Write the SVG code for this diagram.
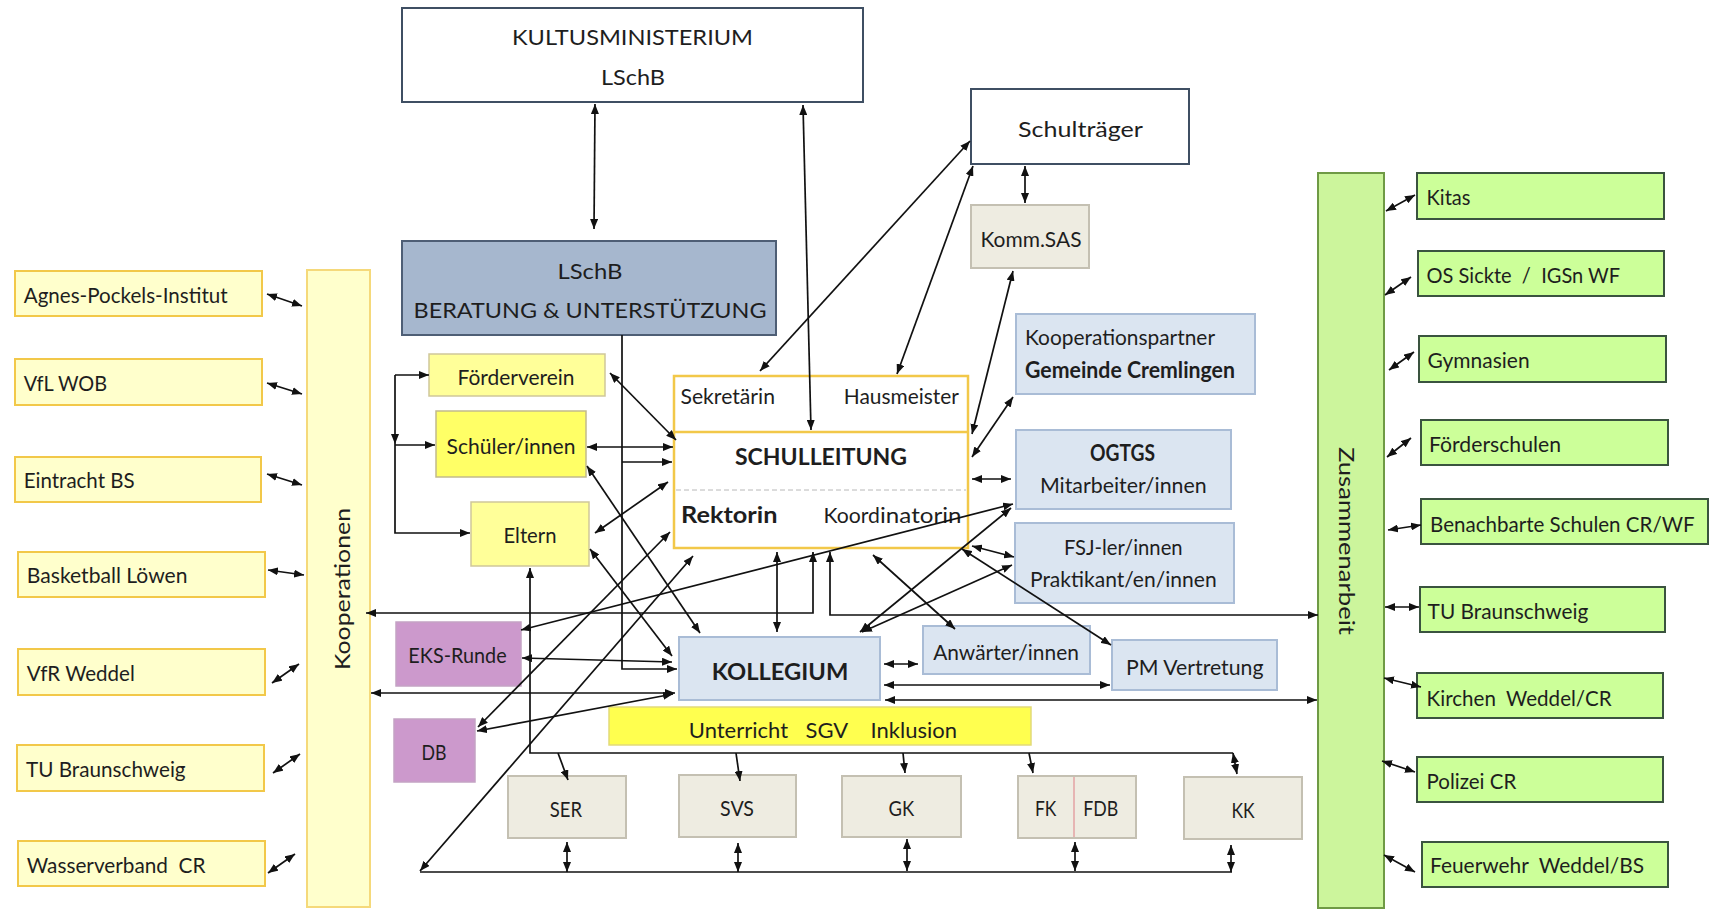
<svg xmlns="http://www.w3.org/2000/svg" width="1714" height="909" viewBox="0 0 1714 909">
<defs>
<marker id="ah" viewBox="0 0 10 8" refX="10" refY="4" markerWidth="10" markerHeight="8" orient="auto-start-reverse" markerUnits="userSpaceOnUse"><path d="M0,0 L10,4 L0,8 z" fill="#111"/></marker>
<style>
.t{font-family:Lato,"Liberation Sans",sans-serif;font-size:22px;fill:#1e1e1e}
.c{text-anchor:middle}
.b{font-weight:bold}
.pre{white-space:pre}
.w{fill:#fff;stroke:#3f4f63;stroke-width:2}
.ly{fill:#ffff99;stroke:#cfc79a;stroke-width:1.5}
.by{fill:#ffff66;stroke:#c2ba8c;stroke-width:1.5}
.bl{fill:#dbe5f1;stroke:#a9bcd6;stroke-width:2}
.gr{fill:#eeece1;stroke:#c4c0b2;stroke-width:2}
.pu{fill:#cc99cc;stroke:#c4a3c4;stroke-width:1.5}
.ko{fill:#ffffcc;stroke:#f2c849;stroke-width:2}
.gn{fill:#ccff99;stroke:#3a533f;stroke-width:2}
.cn line,.cn polyline{stroke:#111;stroke-width:1.7;fill:none}
.d{marker-start:url(#ah);marker-end:url(#ah)}
.e{marker-end:url(#ah)}
.s{marker-start:url(#ah)}
</style>
</defs>
<rect width="1714" height="909" fill="#fff"/>

<g id="kultus"><rect class="w" x="402" y="8" width="461" height="94"/>
<text class="t c" x="632.5" y="45" font-size="26" textLength="241" lengthAdjust="spacingAndGlyphs">KULTUSMINISTERIUM</text>
<text class="t c" x="633" y="85" font-size="25" textLength="64" lengthAdjust="spacingAndGlyphs">LSchB</text></g>

<g id="schultraeger"><rect class="w" x="971" y="89" width="218" height="75"/>
<text class="t c" x="1080.5" y="137" font-size="22" textLength="125" lengthAdjust="spacingAndGlyphs">Schulträger</text></g>

<g id="komm-sas"><rect class="gr" x="971" y="205" width="118" height="63"/>
<text class="t c" x="1031" y="246.5" font-size="20" textLength="101" lengthAdjust="spacingAndGlyphs">Komm.SAS</text></g>

<g id="lschb-beratung"><rect x="402" y="241" width="374" height="94" fill="#a6b7ce" stroke="#4e5e75" stroke-width="2"/>
<text class="t c" x="590" y="279" font-size="24" textLength="65" lengthAdjust="spacingAndGlyphs">LSchB</text>
<text class="t c" x="590" y="318" font-size="24" textLength="353" lengthAdjust="spacingAndGlyphs">BERATUNG &amp; UNTERSTÜTZUNG</text></g>

<g id="foerderverein"><rect class="ly" x="429" y="354" width="176" height="42"/>
<text class="t c" x="516" y="385" textLength="117" lengthAdjust="spacingAndGlyphs">Förderverein</text></g>

<g id="schueler"><rect class="by" x="436" y="411" width="150" height="66"/>
<text class="t c" x="511" y="454" font-size="21.5" textLength="129" lengthAdjust="spacingAndGlyphs">Schüler/innen</text></g>

<g id="eltern"><rect class="ly" x="471" y="502" width="118" height="64"/>
<text class="t c" x="530" y="543" font-size="21" textLength="53" lengthAdjust="spacingAndGlyphs">Eltern</text></g>

<g id="schulleitung"><rect x="674" y="376" width="294" height="172" fill="#fff" stroke="#f2c849" stroke-width="2.5"/>
<line x1="674" y1="432" x2="968" y2="432" stroke="#f2c849" stroke-width="2.5"/>
<line x1="676" y1="490" x2="966" y2="490" stroke="#b8b8b8" stroke-width="1" stroke-dasharray="5 3"/>
<text class="t" x="680.5" y="404" font-size="21" textLength="94.5" lengthAdjust="spacingAndGlyphs">Sekretärin</text>
<text class="t" x="843.8" y="404" font-size="21" textLength="115" lengthAdjust="spacingAndGlyphs">Hausmeister</text>
<text class="t c b" x="821" y="465" font-size="27" textLength="172" lengthAdjust="spacingAndGlyphs">SCHULLEITUNG</text>
<text class="t b" x="681" y="523" font-size="24" textLength="96.5" lengthAdjust="spacingAndGlyphs">Rektorin</text>
<text class="t" x="823.5" y="523" font-size="23" textLength="56.5" lengthAdjust="spacingAndGlyphs">Koord</text>
<text class="t" x="880" y="523" font-size="19" textLength="81.5" lengthAdjust="spacingAndGlyphs">inatorin</text></g>

<g id="kooperationspartner"><rect class="bl" x="1016" y="314" width="239" height="80"/>
<text class="t" x="1025" y="345" font-size="21" textLength="190" lengthAdjust="spacingAndGlyphs">Kooperationspartner</text>
<text class="t b" x="1025" y="378" font-size="22" textLength="210" lengthAdjust="spacingAndGlyphs">Gemeinde Cremlingen</text></g>

<g id="ogtgs"><rect class="bl" x="1016" y="430" width="215" height="79"/>
<text class="t c b" x="1122.5" y="461" font-size="21" textLength="65" lengthAdjust="spacingAndGlyphs">OGTGS</text>
<text class="t c" x="1123.3" y="493" textLength="166.7" lengthAdjust="spacingAndGlyphs">Mitarbeiter/innen</text></g>

<g id="fsj"><rect class="bl" x="1015" y="523" width="219" height="80"/>
<text class="t c" x="1123.3" y="555" textLength="118.7" lengthAdjust="spacingAndGlyphs">FSJ-ler/innen</text>
<text class="t c" x="1123.3" y="587" textLength="186.7" lengthAdjust="spacingAndGlyphs">Praktikant/en/innen</text></g>

<g id="kollegium"><rect class="bl" x="679" y="637" width="201" height="63"/>
<text class="t c b" x="780" y="680" font-size="26" textLength="136.7" lengthAdjust="spacingAndGlyphs">KOLLEGIUM</text></g>

<g id="anwaerter"><rect class="bl" x="923" y="626" width="167" height="48"/>
<text class="t c" x="1006" y="660" textLength="145.7" lengthAdjust="spacingAndGlyphs">Anwärter/innen</text></g>

<g id="pm-vertretung"><rect class="bl" x="1112" y="640" width="165" height="50"/>
<text class="t c" x="1194.8" y="675" textLength="137.5" lengthAdjust="spacingAndGlyphs">PM Vertretung</text></g>

<g id="unterricht"><rect x="609" y="707" width="422" height="38" fill="#ffff4f" stroke="#e2da7a" stroke-width="1.5"/>
<text class="t" y="737.5" font-size="21.5"><tspan x="688.8">Unterricht</tspan><tspan x="805.6">SGV</tspan><tspan x="870.6">Inklusion</tspan></text></g>

<g id="eks-runde"><rect class="pu" x="396" y="622" width="125" height="64"/>
<text class="t c" x="457.5" y="663" textLength="98.3" lengthAdjust="spacingAndGlyphs" fill="#2a1a33">EKS-Runde</text></g>

<g id="db"><rect class="pu" x="394" y="719" width="81" height="63"/>
<text class="t c" x="434" y="760" textLength="25" lengthAdjust="spacingAndGlyphs">DB</text></g>

<g id="ser"><rect class="gr" x="508" y="776" width="118" height="62"/>
<text class="t c" x="566" y="816.5" textLength="32.3" lengthAdjust="spacingAndGlyphs">SER</text></g>
<g id="svs"><rect class="gr" x="679" y="775" width="117" height="62"/>
<text class="t c" x="737" y="816" textLength="34" lengthAdjust="spacingAndGlyphs">SVS</text></g>
<g id="gk"><rect class="gr" x="842" y="776" width="119" height="61"/>
<text class="t c" x="901.4" y="816" textLength="25.7" lengthAdjust="spacingAndGlyphs">GK</text></g>
<g id="fk-fdb"><rect class="gr" x="1018" y="776" width="118" height="62"/>
<line x1="1074" y1="777" x2="1074" y2="837" stroke="#e3a3a3" stroke-width="1.5"/>
<text class="t c" x="1045.7" y="816" textLength="21.4" lengthAdjust="spacingAndGlyphs">FK</text>
<text class="t c" x="1100.7" y="816" textLength="35" lengthAdjust="spacingAndGlyphs">FDB</text></g>
<g id="kk"><rect class="gr" x="1184" y="777" width="118" height="62"/>
<text class="t c" x="1243" y="818" textLength="23.2" lengthAdjust="spacingAndGlyphs">KK</text></g>

<g id="kooperationen"><rect x="307" y="270" width="63" height="637" fill="#ffffcc" stroke="#f5d97a" stroke-width="2"/>
<text class="t c" transform="translate(349.5,589) rotate(-90)" font-size="25" textLength="162" lengthAdjust="spacingAndGlyphs">Kooperationen</text></g>

<g id="agnes"><rect class="ko" x="15" y="271" width="247" height="45"/><text class="t" x="23.7" y="302.7" textLength="204" lengthAdjust="spacingAndGlyphs">Agnes-Pockels-Institut</text></g>
<g id="vfl-wob"><rect class="ko" x="15" y="359" width="247" height="46"/><text class="t" x="23.7" y="390.7" textLength="83.4" lengthAdjust="spacingAndGlyphs">VfL WOB</text></g>
<g id="eintracht"><rect class="ko" x="15" y="457" width="246" height="45"/><text class="t" x="23.7" y="488" textLength="111" lengthAdjust="spacingAndGlyphs">Eintracht BS</text></g>
<g id="basketball"><rect class="ko" x="18" y="552" width="247" height="45"/><text class="t" x="26.8" y="583" textLength="160.7" lengthAdjust="spacingAndGlyphs">Basketball Löwen</text></g>
<g id="vfr-weddel"><rect class="ko" x="18" y="649" width="247" height="46"/><text class="t" x="26.8" y="680.7" textLength="108" lengthAdjust="spacingAndGlyphs">VfR Weddel</text></g>
<g id="tu-bs-left"><rect class="ko" x="17" y="745" width="247" height="46"/><text class="t" x="26" y="776.7" textLength="159.6" lengthAdjust="spacingAndGlyphs">TU Braunschweig</text></g>
<g id="wasserverband"><rect class="ko" x="18" y="841" width="247" height="45"/><text class="t pre" x="26.8" y="872.7" textLength="178.7" lengthAdjust="spacingAndGlyphs">Wasserverband  CR</text></g>

<g id="zusammenarbeit"><rect x="1318" y="173" width="66" height="735" fill="#ccf59c" stroke="#6f9a45" stroke-width="2"/>
<text class="t c" transform="translate(1338.5,541) rotate(90)" font-size="26" textLength="188" lengthAdjust="spacingAndGlyphs">Zusammenarbeit</text></g>

<g id="kitas"><rect class="gn" x="1417" y="173" width="247" height="46"/><text class="t" x="1426.6" y="205" textLength="43.9" lengthAdjust="spacingAndGlyphs">Kitas</text></g>
<g id="os-sickte"><rect class="gn" x="1418" y="251" width="246" height="45"/><text class="t pre" x="1426.6" y="283" textLength="193.5" lengthAdjust="spacingAndGlyphs">OS Sickte  /  IGSn WF</text></g>
<g id="gymnasien"><rect class="gn" x="1419" y="336" width="247" height="46"/><text class="t" x="1427.6" y="368" textLength="102" lengthAdjust="spacingAndGlyphs">Gymnasien</text></g>
<g id="foerderschulen"><rect class="gn" x="1421" y="420" width="247" height="45"/><text class="t" x="1429" y="451.5" textLength="132" lengthAdjust="spacingAndGlyphs">Förderschulen</text></g>
<g id="benachbarte"><rect class="gn" x="1421" y="499" width="287" height="45"/><text class="t" x="1430" y="531.7" textLength="264.6" lengthAdjust="spacingAndGlyphs">Benachbarte Schulen CR/WF</text></g>
<g id="tu-bs-right"><rect class="gn" x="1420" y="587" width="245" height="45"/><text class="t" x="1427.6" y="619" textLength="160.8" lengthAdjust="spacingAndGlyphs">TU Braunschweig</text></g>
<g id="kirchen"><rect class="gn" x="1417" y="673" width="246" height="45"/><text class="t pre" x="1426.6" y="705.7" textLength="185" lengthAdjust="spacingAndGlyphs">Kirchen  Weddel/CR</text></g>
<g id="polizei"><rect class="gn" x="1417" y="757" width="246" height="45"/><text class="t" x="1426.6" y="789" textLength="89.7" lengthAdjust="spacingAndGlyphs">Polizei CR</text></g>
<g id="feuerwehr"><rect class="gn" x="1422" y="842" width="246" height="45"/><text class="t pre" x="1430" y="873" textLength="214" lengthAdjust="spacingAndGlyphs">Feuerwehr  Weddel/BS</text></g>

<g id="connectors" class="cn">
<line class="d" x1="595" y1="104" x2="594" y2="229"/>
<line class="d" x1="803" y1="105" x2="811" y2="430"/>
<line class="d" x1="970" y1="141" x2="760" y2="371"/>
<line class="d" x1="973" y1="166" x2="897" y2="374"/>
<line class="d" x1="1025" y1="166" x2="1025" y2="203"/>
<line class="d" x1="1013" y1="271" x2="972" y2="434"/>
<line class="d" x1="972" y1="457" x2="1013" y2="397"/>
<line class="d" x1="972" y1="479" x2="1011" y2="479"/>
<line class="d" x1="972" y1="546" x2="1014" y2="557"/>
<line class="d" x1="521" y1="630" x2="1013" y2="504"/>
<line class="d" x1="860" y1="632" x2="1011" y2="508"/>
<line class="d" x1="862" y1="632" x2="1012" y2="565"/>
<line class="d" x1="962" y1="549" x2="1111" y2="645"/>
<line class="d" x1="873" y1="555" x2="955" y2="629"/>
<line class="d" x1="777" y1="552" x2="777" y2="632"/>
<polyline class="d" points="813,552 813,613 366,613"/>
<polyline class="d" points="830,552 830,615 1318,615"/>
<line class="d" x1="884" y1="664" x2="918" y2="664"/>
<line class="d" x1="884" y1="685" x2="1110" y2="685"/>
<line class="d" x1="885" y1="700" x2="1317" y2="700"/>
<line class="d" x1="371" y1="693" x2="675" y2="693"/>
<line class="d" x1="522" y1="658" x2="672" y2="662"/>
<line class="d" x1="477" y1="731" x2="673" y2="694"/>
<line class="d" x1="478" y1="727" x2="670" y2="532"/>
<line class="d" x1="420" y1="871" x2="693" y2="556"/>
<line x1="420" y1="872" x2="1232" y2="872"/>
<line class="d" x1="567" y1="842" x2="567" y2="872"/>
<line class="d" x1="738" y1="843" x2="738" y2="872"/>
<line class="d" x1="907" y1="839" x2="907" y2="871"/>
<line class="d" x1="1075" y1="842" x2="1075" y2="871"/>
<line class="d" x1="1231" y1="845" x2="1231" y2="872"/>
<polyline class="s" points="530,568 530,753 1233,753"/>
<line class="e" x1="558" y1="753" x2="568" y2="780"/>
<line class="e" x1="736" y1="753" x2="740" y2="781"/>
<line class="e" x1="903" y1="753" x2="905" y2="773"/>
<line class="e" x1="1029" y1="753" x2="1033" y2="773"/>
<line class="d" x1="1233" y1="753" x2="1237" y2="774"/>
<line class="e" x1="395" y1="375" x2="429" y2="375"/>
<line class="e" x1="395" y1="375" x2="395" y2="444"/>
<line class="e" x1="395" y1="445" x2="435" y2="445"/>
<polyline class="e" points="395,444 395,533 470,533"/>
<line class="d" x1="610" y1="373" x2="676" y2="440"/>
<line class="d" x1="587" y1="447" x2="673" y2="447"/>
<polyline class="e" points="622,335 622,669 677,669"/>
<line class="e" x1="622" y1="462" x2="672" y2="462"/>
<line class="d" x1="595" y1="533" x2="668" y2="482"/>
<line class="d" x1="587" y1="466" x2="700" y2="633"/>
<line class="d" x1="590" y1="549" x2="672" y2="656"/>
<line class="d" x1="267" y1="294" x2="302" y2="306"/>
<line class="d" x1="267" y1="383" x2="302" y2="394"/>
<line class="d" x1="267" y1="474" x2="302" y2="485"/>
<line class="d" x1="268" y1="570" x2="304" y2="575"/>
<line class="d" x1="272" y1="683" x2="299" y2="664"/>
<line class="d" x1="273" y1="773" x2="300" y2="754"/>
<line class="d" x1="268" y1="873" x2="295" y2="854"/>
<line class="d" x1="1386" y1="211" x2="1415" y2="195"/>
<line class="d" x1="1385" y1="295" x2="1411" y2="277"/>
<line class="d" x1="1389" y1="370" x2="1414" y2="352"/>
<line class="d" x1="1387" y1="457" x2="1411" y2="438"/>
<line class="d" x1="1388" y1="530" x2="1421" y2="525"/>
<line class="d" x1="1385" y1="607" x2="1419" y2="607"/>
<line class="d" x1="1384" y1="678" x2="1421" y2="687"/>
<line class="d" x1="1382" y1="761" x2="1415" y2="772"/>
<line class="d" x1="1384" y1="855" x2="1415" y2="872"/>
</g>
</svg>
